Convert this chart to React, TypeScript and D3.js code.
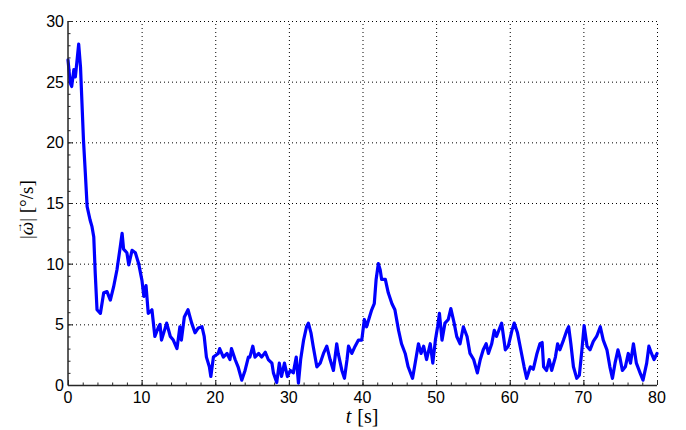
import React from "react";
import * as d3 from "d3";

const timeVals = [
  0, 0.3, 0.5, 0.8, 1.0, 1.45, 1.7, 1.9, 2.1, 2.35, 2.6, 3.0, 3.26, 3.5, 3.7, 3.94,
  4.4, 4.85, 5.3, 5.75, 6.2, 6.65, 7.1, 7.35, 7.55, 8.0, 8.25, 8.7, 9.15, 9.6, 10.05,
  10.3, 10.6, 10.9, 11.4, 11.8, 12.3, 12.5, 12.7, 13.4, 13.9, 14.3, 14.8, 15.2, 15.4,
  15.8, 16.3, 16.8, 17.25, 17.7, 18.2, 18.5, 18.8, 19.2, 19.4, 19.75, 20.4, 20.6, 21.1,
  21.6, 22.0, 22.2, 22.7, 23.1, 23.6, 24.05, 24.5, 24.7, 25.1, 25.4, 25.9, 26.3, 26.8,
  27.2, 27.7, 27.9, 28.35, 28.7, 29.0, 29.4, 29.8, 30.2, 30.6, 31.0, 31.3, 31.6, 32.0,
  32.4, 32.65, 33.0, 33.3, 33.8, 34.25, 34.7, 35.15, 35.6, 36.05, 36.5, 36.7, 37.2,
  37.55, 37.9, 38.1, 38.55, 39.0, 39.45, 39.9, 40.25, 40.55, 40.95, 41.25, 41.6, 41.85,
  42.15, 42.4, 42.6, 43.1, 43.5, 44.0, 44.4, 44.9, 45.3, 45.8, 46.2, 46.8, 47.15, 47.6,
  47.95, 48.3, 48.7, 49.2, 49.55, 49.9, 50.2, 50.45, 50.8, 51.2, 51.65, 52.0, 52.45,
  52.8, 53.25, 53.7, 54.2, 54.6, 55.1, 55.6, 56.0, 56.4, 56.8, 57.1, 57.55, 57.9, 58.2,
  58.7, 58.9, 59.4, 59.8, 60.3, 60.6, 61.05, 61.5, 61.95, 62.3, 62.8, 63.2, 63.7, 64.1,
  64.4, 64.6, 65.0, 65.35, 65.7, 66.2, 66.5, 66.8, 67.3, 67.75, 68.0, 68.3, 68.65, 69.1,
  69.45, 69.8, 70.1, 70.5, 70.9, 71.35, 71.8, 72.3, 72.7, 73.2, 73.6, 73.95, 74.3, 74.7,
  74.95, 75.3, 75.7, 76.1, 76.4, 76.8, 77.2, 77.7, 78.1, 78.6, 78.9, 79.25, 79.6, 80,
];

const omegaVals = [
  26.8, 24.9, 24.6, 26.0, 25.4, 28.1, 26.2, 23.2, 20.2, 17.5, 14.7, 13.6, 13.05, 12.2, 9.2, 6.2,
  5.9, 7.6, 7.7, 7.0, 8.1, 9.5, 11.4, 12.5, 11.2, 10.9, 9.9, 11.1, 10.9, 10.0, 8.6,
  7.3, 8.2, 5.9, 6.2, 4.0, 4.8, 5.0, 3.7, 5.1, 4.0, 3.7, 3.0, 4.8, 3.7,
  5.6, 6.2, 5.1, 4.3, 4.7, 4.8, 4.0, 2.3, 1.5, 0.7, 2.3, 2.6, 3.0, 2.3,
  2.6, 2.1, 3.0, 2.1, 1.5, 0.4, 1.2, 2.3, 2.3, 3.2, 2.3, 2.6, 2.3, 2.7,
  2.1, 1.8, 1.0, 0.2, 1.8, 0.7, 1.8, 0.7, 1.2, 1.0, 2.3, 0.15, 2.1, 3.7,
  4.8, 5.1, 4.3, 3.2, 1.5, 1.8, 2.6, 3.2, 2.1, 1.2, 3.4, 2.6, 1.2,
  0.55, 2.1, 3.2, 2.6, 3.2, 3.7, 3.7, 5.4, 4.8, 5.6, 6.2, 6.7, 8.7,
  10.0, 9.5, 8.7, 8.7, 7.6, 6.7, 6.2, 4.5, 3.4, 2.6, 1.5, 0.55, 1.8, 3.4,
  2.6, 3.2, 2.1, 3.4, 1.8, 3.7, 4.8, 5.9, 3.7, 5.1, 5.4, 6.3, 5.1,
  4.0, 3.4, 4.8, 4.0, 2.6, 2.1, 1.0, 2.1, 2.9, 3.4, 2.6, 3.4, 4.5, 4.0,
  4.8, 5.1, 2.9, 3.2, 4.5, 5.1, 4.3, 2.9, 1.5, 0.55, 1.5, 1.3, 2.6, 3.4,
  3.5, 1.5, 1.2, 2.1, 1.2, 2.3, 3.4, 2.9, 3.7, 4.5, 4.8, 3.4, 1.5, 0.55,
  0.8, 2.9, 4.9, 3.2, 2.9, 3.6, 4.0, 4.8, 3.7, 2.9, 1.5, 0.55, 1.8, 2.9,
  2.3, 1.2, 1.5, 2.6, 1.8, 3.4, 1.8, 1.0, 0.4, 1.8, 3.2, 2.6, 2.1, 2.6,
];

const xTicks = [0, 10, 20, 30, 40, 50, 60, 70, 80];
const yTicks = [0, 5, 10, 15, 20, 25, 30];
const xMinor = d3.range(0, 81, 2);
const yMinor = d3.range(0, 31, 1);

const W = 686;
const H = 430;
const margin = { left: 68, right: 29, top: 21, bottom: 45 };

export default function App() {
  const x = d3.scaleLinear().domain([0, 80]).range([margin.left, W - margin.right]);
  const y = d3.scaleLinear().domain([0, 30]).range([H - margin.bottom, margin.top]);
  const pts: [number, number][] = timeVals.map((t, i) => [t, omegaVals[i]]);
  const line = d3
    .line<[number, number]>()
    .x((d) => x(d[0]))
    .y((d) => y(d[1]))
    .curve(d3.curveLinear);

  const x0 = x(0), x1 = x(80), y0 = y(0), y1 = y(30);
  const axisColor = "#262626";
  const font = "'Liberation Sans', Arial, sans-serif";
  const serif = "'Liberation Serif', 'DejaVu Serif', serif";

  return (
    <svg
      width={W}
      height={H}
      style={{ position: "absolute", left: 0, top: 0, background: "#fff" }}
    >
      <rect x={0} y={0} width={W} height={H} fill="#fff" />
      {/* grid */}
      <g stroke="#000" strokeWidth={1} strokeDasharray="1,3">
        {xTicks.slice(1).map((t) => (
          <line key={"gx" + t} x1={x(t) + 0.5} x2={x(t) + 0.5} y1={y0} y2={y1} />
        ))}
        {yTicks.slice(1).map((t) => (
          <line key={"gy" + t} x1={x0} x2={x1} y1={y(t) + 0.5} y2={y(t) + 0.5} />
        ))}
      </g>
      {/* ticks */}
      <g stroke={axisColor} strokeWidth={1}>
        {xMinor.map((t) => (
          <line key={"mx" + t} x1={x(t) + 0.5} x2={x(t) + 0.5} y1={y0} y2={y0 - 2.5} />
        ))}
        {yMinor.map((t) => (
          <line key={"my" + t} x1={x0} x2={x0 + 2.5} y1={y(t) + 0.5} y2={y(t) + 0.5} />
        ))}
        {xTicks.map((t) => (
          <line key={"tx" + t} x1={x(t) + 0.5} x2={x(t) + 0.5} y1={y0} y2={y0 - 5} />
        ))}
        {yTicks.map((t) => (
          <line key={"ty" + t} x1={x0} x2={x0 + 5} y1={y(t) + 0.5} y2={y(t) + 0.5} />
        ))}
      </g>
      {/* data line */}
      <path
        d={line(pts) || ""}
        fill="none"
        stroke="#0000ff"
        strokeWidth={3.2}
        strokeLinejoin="round"
        strokeLinecap="round"
      />
      {/* axes */}
      <line x1={x0} x2={x0} y1={y0 + 0.5} y2={y1} stroke={axisColor} strokeWidth={1.5} />
      <line x1={x0} x2={x1} y1={y0 + 0.5} y2={y0 + 0.5} stroke={axisColor} strokeWidth={1.5} />
      {/* tick labels */}
      <g fontFamily={font} fontSize={16} fill="#000">
        {xTicks.map((t) => (
          <text key={"lx" + t} x={x(t)} y={y0 + 18} textAnchor="middle">
            {t}
          </text>
        ))}
        {yTicks.map((t) => (
          <text key={"ly" + t} x={x0 - 4} y={y(t) + 6} textAnchor="end">
            {t}
          </text>
        ))}
      </g>
      {/* axis labels */}
      <text x={362} y={423} textAnchor="middle" fontFamily={serif} fontSize={20}>
        <tspan fontStyle="italic">t</tspan>
        <tspan dx={6}>[s]</tspan>
      </text>
      <g transform="translate(33,205) rotate(-90)" fontFamily={serif} fill="#000">
        <text x={-34} y={0} fontSize={19} textAnchor="start">
          {"|"}
          <tspan fontStyle="italic">ω</tspan>
          {"|  [°/s]"}
        </text>
        <text x={-22.5} y={-11} fontSize={11} textAnchor="middle">
          →
        </text>
      </g>
    </svg>
  );
}
